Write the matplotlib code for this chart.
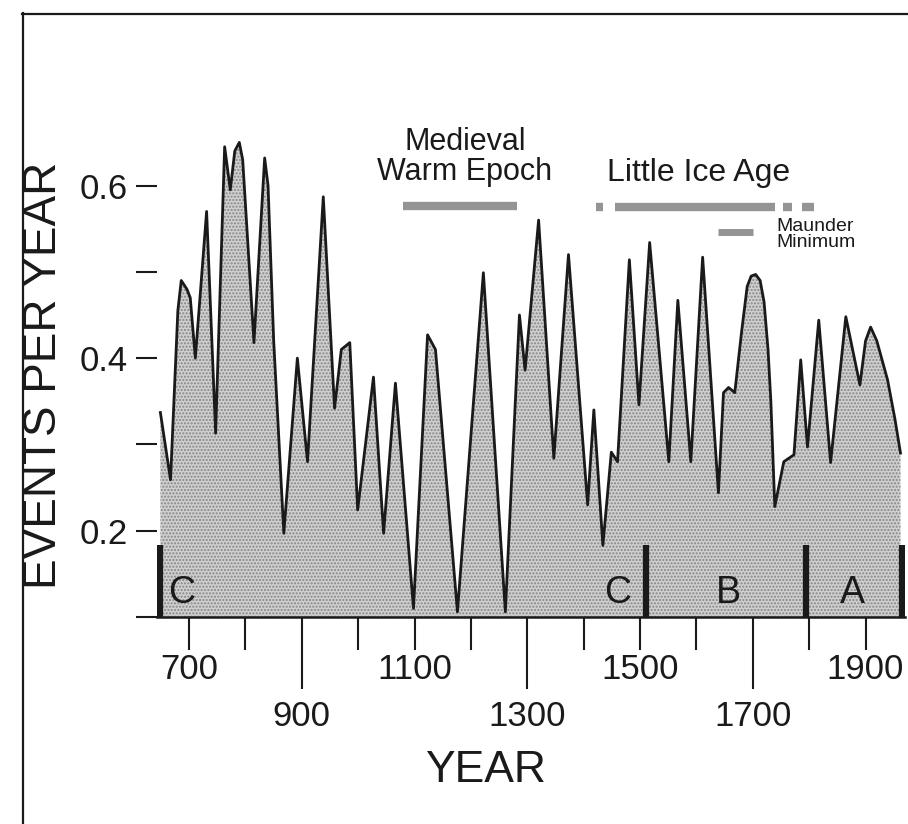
import numpy as np
import matplotlib.pyplot as plt
from matplotlib.lines import Line2D

plt.rcParams['font.family'] = ['Liberation Sans', 'DejaVu Sans']
plt.rcParams['hatch.linewidth'] = 1.0

# events per year
years = [649, 667, 680, 686, 696, 702, 711, 731, 747, 763, 773, 781, 789, 795,
         815, 834, 840, 850, 868, 892, 910, 938, 958, 970, 985, 999, 1027, 1045,
         1066, 1098, 1123, 1137, 1176, 1222, 1261, 1286, 1296, 1320, 1347, 1373,
         1407, 1418, 1434, 1449, 1460, 1481, 1498, 1517, 1551, 1567, 1590, 1611,
         1639, 1648, 1657, 1668, 1680, 1690, 1697, 1705, 1713, 1720, 1727, 1732,
         1739, 1755, 1773, 1785, 1797, 1817, 1838, 1865, 1890, 1900, 1909, 1920,
         1939, 1952, 1962]
events = [0.337, 0.259, 0.455, 0.49, 0.48, 0.47, 0.40, 0.57, 0.313, 0.645, 0.595, 0.64, 0.65, 0.63,
          0.418, 0.632, 0.60, 0.42, 0.197, 0.40, 0.28, 0.587, 0.342, 0.41, 0.418, 0.224, 0.378, 0.197,
          0.371, 0.11, 0.427, 0.41, 0.106, 0.499, 0.106, 0.45, 0.386, 0.56, 0.284, 0.52,
          0.23, 0.34, 0.183, 0.291, 0.28, 0.514, 0.346, 0.534, 0.28, 0.467, 0.28, 0.517,
          0.244, 0.36, 0.366, 0.36, 0.43, 0.483, 0.495, 0.497, 0.49, 0.465, 0.41, 0.35,
          0.228, 0.28, 0.288, 0.398, 0.297, 0.444, 0.279, 0.448, 0.369, 0.42, 0.436, 0.42,
          0.375, 0.33, 0.29]

# zones along the bottom
zone_edges = [649, 1510, 1795, 1964]
zone_names = ['C', 'C', 'B', 'A']
zone_label_years = [686, 1460, 1657, 1877]

# climate periods as (start, end) pieces
mwe_pieces = [(1080, 1282)]
lia_pieces = [(1421, 1434), (1456, 1740), (1753, 1770), (1788, 1808)]
maunder_pieces = [(1639, 1701)]

long_ticks = [900, 1300, 1700]
short_ticks = [700, 800, 1000, 1100, 1200, 1400, 1500, 1600, 1800, 1900]
short_labels = ['700', '', '', '1100', '', '', '1500', '', '', '1900']

W, H = 908, 824
fig = plt.figure(figsize=(W / 100, H / 100), dpi=100)
ax = fig.add_axes([157 / W, 1 - 617 / H, 748 / W, 604 / H])
ax.set_xlim(643, 1970)
ax.set_ylim(0.1, 0.8)

ax.fill_between(years, 0.1, events, facecolor='#cfcfcf', linewidth=0)
ax.fill_between(years, 0.1, events, facecolor='none', edgecolor='#858585',
                hatch='.....', linewidth=0)
ax.plot(years, events, color='#1a1a1a', lw=2.0)

ax.vlines(zone_edges, 0.1, 0.183, color='#1a1a1a', lw=4.5)
for yr, name in zip(zone_label_years, zone_names):
    ax.text(yr, 0.128, name, ha='center', va='center', fontsize=27, color='#1a1a1a')

def draw_pieces(pieces, y, lw):
    for a, b in pieces:
        ax.plot([a, b], [y, y], color='#949494', lw=lw, solid_capstyle='butt')

draw_pieces(mwe_pieces, 0.5765, 6)
draw_pieces(lia_pieces, 0.575, 6)
draw_pieces(maunder_pieces, 0.546, 5)

ax.text(1189, 0.633, 'Medieval\nWarm Epoch', ha='center', va='center',
        fontsize=22, linespacing=0.98, color='#1a1a1a')
ax.text(1604, 0.615, 'Little Ice Age', ha='center', va='center',
        fontsize=23, color='#1a1a1a')
ax.text(1742, 0.543, 'Maunder\nMinimum', ha='left', va='center',
        fontsize=14, linespacing=0.9, color='#1a1a1a')

for s in ['top', 'right', 'left']:
    ax.spines[s].set_visible(False)
ax.spines['bottom'].set_linewidth(1.8)
ax.spines['bottom'].set_color('#1a1a1a')

ax.set_xticks(long_ticks, labels=[str(t) for t in long_ticks])
ax.set_xticks(short_ticks, labels=short_labels, minor=True)
ax.tick_params(axis='x', which='major', length=52, width=1.5, pad=8, labelsize=25,
               colors='#1a1a1a')
ax.tick_params(axis='x', which='minor', length=24, width=1.5, pad=2, labelsize=25,
               colors='#1a1a1a')

ax.set_yticks([0.2, 0.4, 0.6], labels=['0.2', '0.4', '0.6'])
ax.set_yticks([0.1, 0.3, 0.5], minor=True)
ax.tick_params(axis='y', which='both', length=15, width=1.5, pad=6, labelsize=25,
               colors='#1a1a1a')

fig.text(44 / W, 1 - 375 / H, 'EVENTS PER YEAR', rotation=90, ha='center', va='center',
         fontsize=33, color='#1a1a1a')
fig.text(485 / W, 1 - 770 / H, 'YEAR', ha='center', va='center', fontsize=32,
         color='#1a1a1a')

fig.add_artist(Line2D([22 / W, 1], [1 - 13.5 / H] * 2, transform=fig.transFigure,
                      color='#1a1a1a', lw=1.6))
fig.add_artist(Line2D([23 / W] * 2, [0, 1 - 13 / H], transform=fig.transFigure,
                      color='#1a1a1a', lw=1.6))

fig.savefig('out.png', dpi=100)
